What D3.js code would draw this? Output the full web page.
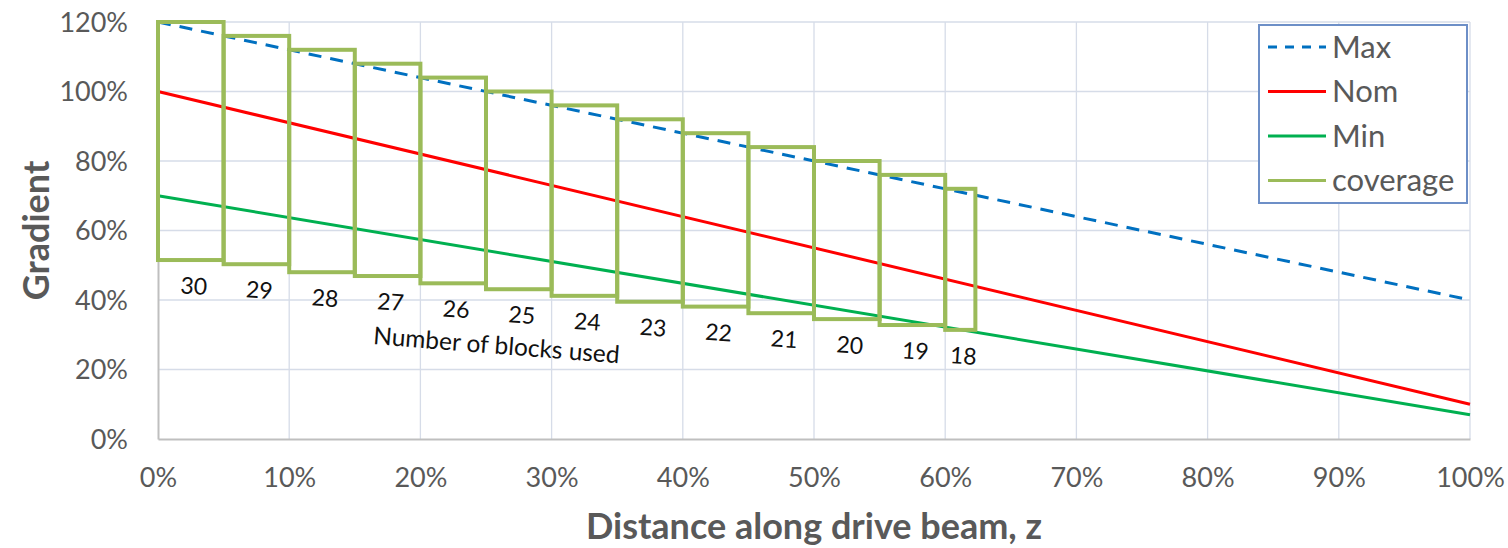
<!DOCTYPE html>
<html>
<head>
<meta charset="utf-8">
<script src="https://cdn.jsdelivr.net/npm/d3@7"></script>
<style>
    html, body { margin: 0; padding: 0; background: #fff; }
    svg { display: block; font-family: Lato, "Open Sans", sans-serif; }
</style>
</head>
<body>
<div id="chart"></div>
<script>
// 坐标轴刻度
const zTicks = [0, 10, 20, 30, 40, 50, 60, 70, 80, 90, 100];
const gradTicks = [0, 20, 40, 60, 80, 100, 120];

// 直线：起点和终点 (z = 0%, 100%)
const zEnds = [0, 100];
const maxLine = [120, 40];
const nomLine = [100, 10];
const minLine = [70, 7];

// 覆盖范围方框
const coverageStart = [0, 5, 10, 15, 20, 25, 30, 35, 40, 45, 50, 55, 60];
const coverageEnd = [5, 10, 15, 20, 25, 30, 35, 40, 45, 50, 55, 60, 62.3];
const coverageTop = [120, 116, 112, 108, 104, 100, 96, 92, 88, 84, 80, 76, 72];
const coverageBottom = [51.5, 50.3, 48.0, 46.9, 44.8, 43.1, 41.2, 39.5, 38.1, 36.2, 34.5, 32.8, 31.4];
const blocksUsed = [30, 29, 28, 27, 26, 25, 24, 23, 22, 21, 20, 19, 18];

const legendNames = ['Max', 'Nom', 'Min', 'coverage'];

const W = 1508, H = 548;
const margin = { top: 22, right: 38, bottom: 109, left: 158 };
const width = W - margin.left - margin.right;
const height = H - margin.top - margin.bottom;

const colors = { max: '#0070c0', nom: '#ff0000', min: '#00b050', cov: '#9bbb59' };

const svg = d3.select('#chart').append('svg')
    .attr('width', W)
    .attr('height', H);

const g = svg.append('g')
    .attr('transform', `translate(${margin.left},${margin.top})`);

const x = d3.scaleLinear().domain([0, 100]).range([0, width]);
const y = d3.scaleLinear().domain([0, 120]).range([height, 0]);

// 网格线
g.append('g')
    .selectAll('line.vg')
    .data(zTicks.slice(1))
    .join('line')
    .attr('x1', d => x(d)).attr('x2', d => x(d))
    .attr('y1', 0).attr('y2', height)
    .attr('stroke', '#d6dce8').attr('stroke-width', 1.3);

g.append('g')
    .selectAll('line.hg')
    .data(gradTicks.slice(1))
    .join('line')
    .attr('x1', 0).attr('x2', width)
    .attr('y1', d => y(d)).attr('y2', d => y(d))
    .attr('stroke', '#d6dce8').attr('stroke-width', 1.3);

// 坐标轴
const xAxis = d3.axisBottom(x).tickValues(zTicks).tickFormat(d => d + '%').tickSize(0).tickPadding(29);
const yAxis = d3.axisLeft(y).tickValues(gradTicks).tickFormat(d => d + '%').tickSize(0).tickPadding(30);

const gx = g.append('g').attr('transform', `translate(0,${height})`).call(xAxis);
const gy = g.append('g').call(yAxis);

[gx, gy].forEach(a => {
    a.select('.domain').attr('stroke', '#bfbfbf').attr('stroke-width', 2);
    a.selectAll('text')
        .attr('fill', '#595959')
        .style('font-size', '27px')
        .style('font-family', 'Lato, sans-serif');
});
gy.selectAll('text').attr('dy', '0.35em');
gx.selectAll('text').attr('dy', '0.71em');

// 直线
const line = d3.line().x(d => x(d[0])).y(d => y(d[1]));
const series = [
    { vals: maxLine, color: colors.max, dash: '13,9' },
    { vals: nomLine, color: colors.nom, dash: null },
    { vals: minLine, color: colors.min, dash: null }
];

series.forEach(s => {
    g.append('path')
        .datum(zEnds.map((z, i) => [z, s.vals[i]]))
        .attr('d', line)
        .attr('fill', 'none')
        .attr('stroke', s.color)
        .attr('stroke-width', 3)
        .attr('stroke-dasharray', s.dash);
});

// 覆盖方框
const boxes = coverageStart.map((s, i) => ({
    x0: s, x1: coverageEnd[i], top: coverageTop[i], bottom: coverageBottom[i], n: blocksUsed[i]
}));

g.append('g')
    .selectAll('rect')
    .data(boxes)
    .join('rect')
    .attr('x', d => x(d.x0))
    .attr('y', d => y(d.top))
    .attr('width', d => x(d.x1) - x(d.x0))
    .attr('height', d => y(d.bottom) - y(d.top))
    .attr('fill', 'none')
    .attr('stroke', colors.cov)
    .attr('stroke-width', 4);

// 块数标签
g.append('g')
    .selectAll('text')
    .data(boxes)
    .join('text')
    .attr('transform', d => `translate(${x((d.x0 + d.x1) / 2) + 3},${y(d.bottom) + 26}) rotate(4)`)
    .attr('text-anchor', 'middle')
    .attr('dy', '0.35em')
    .attr('fill', '#111')
    .style('font-size', '23px')
    .text(d => d.n);

g.append('text')
    .attr('transform', `translate(${x(25.8)},${y(27)}) rotate(4.5)`)
    .attr('text-anchor', 'middle')
    .attr('dy', '0.35em')
    .attr('fill', '#111')
    .style('font-size', '24.5px')
    .text('Number of blocks used');

// 轴标题
svg.append('text')
    .attr('x', margin.left + width / 2)
    .attr('y', 539)
    .attr('text-anchor', 'middle')
    .attr('fill', '#595959')
    .style('font-size', '36px')
    .style('font-weight', 'bold')
    .text('Distance along drive beam, z');

svg.append('text')
    .attr('transform', `translate(49,${margin.top + height / 2}) rotate(-90)`)
    .attr('text-anchor', 'middle')
    .attr('fill', '#595959')
    .style('font-size', '36px')
    .style('font-weight', 'bold')
    .text('Gradient');

// 图例
const legend = svg.append('g').attr('transform', 'translate(1259,25)');
legend.append('rect')
    .attr('width', 208).attr('height', 178)
    .attr('fill', '#fff')
    .attr('stroke', '#6d8fc7').attr('stroke-width', 2);

const legendStyle = [
    { color: colors.max, dash: '9,8' },
    { color: colors.nom, dash: null },
    { color: colors.min, dash: null },
    { color: colors.cov, dash: null }
];

legendNames.forEach((name, i) => {
    const ly = 22 + i * 44.5;
    legend.append('line')
        .attr('x1', 9).attr('x2', 67)
        .attr('y1', ly).attr('y2', ly)
        .attr('stroke', legendStyle[i].color)
        .attr('stroke-width', 3)
        .attr('stroke-dasharray', legendStyle[i].dash);
    legend.append('text')
        .attr('x', 73).attr('y', ly)
        .attr('dy', '0.35em')
        .attr('fill', '#595959')
        .style('font-size', '31px')
        .text(name);
});
</script>
</body>
</html>
